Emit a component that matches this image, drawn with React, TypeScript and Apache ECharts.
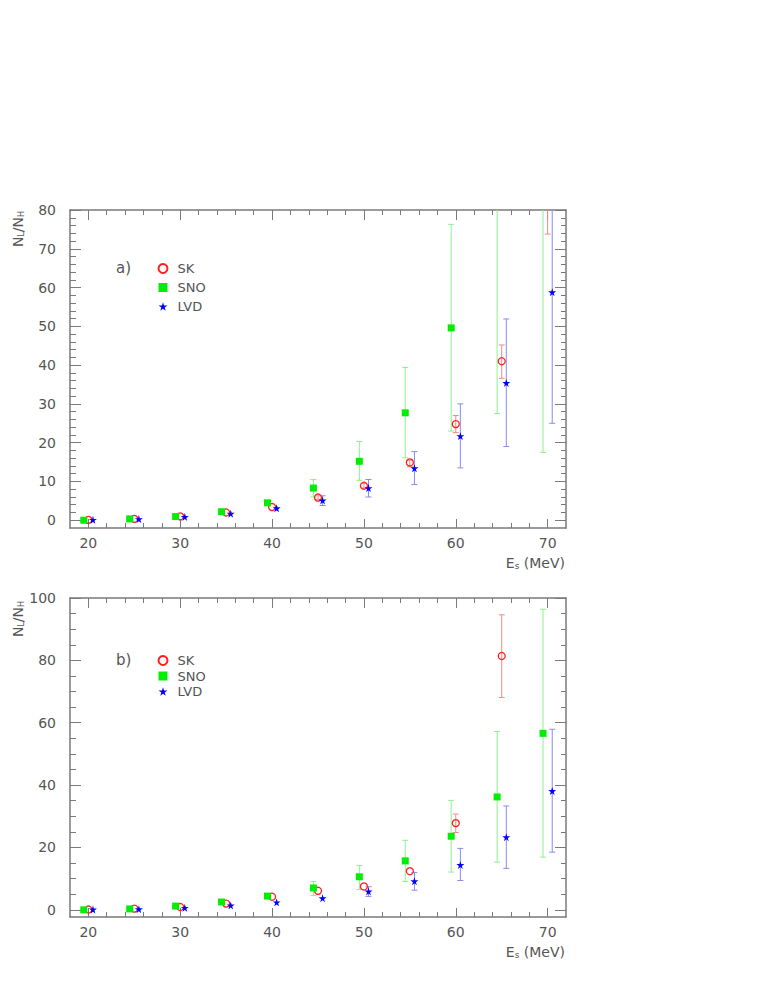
import React, { useEffect, useRef } from "react";
import * as echarts from "echarts";

// ---------- data ----------
// Panel a)
const skX_a = [20, 25, 30, 35, 40, 45, 50, 55, 60, 65, 70];
const skY_a = [0.1, 0.35, 1.0, 2.0, 3.4, 5.85, 8.9, 14.9, 24.8, 41.0, 90];
const skLo_a = [null, null, null, null, null, 5.4, 8.3, 13.8, 22.6, 36.6, 73.8];
const skHi_a = [null, null, null, null, null, 6.3, 9.5, 15.5, 27.0, 45.2, 106];

const snoX_a = [19.5, 24.5, 29.5, 34.5, 39.5, 44.5, 49.5, 54.5, 59.5, 64.5, 69.5];
const snoY_a = [0.0, 0.35, 0.95, 2.2, 4.5, 8.3, 15.2, 27.7, 49.6, 95, 110];
const snoLo_a = [null, null, null, null, null, 6.0, 10.3, 16.1, 23.0, 27.5, 17.5];
const snoHi_a = [null, null, null, null, null, 10.5, 20.3, 39.4, 76.3, 160, 200];

const lvdX_a = [20.5, 25.5, 30.5, 35.5, 40.5, 45.5, 50.5, 55.5, 60.5, 65.5, 70.5];
const lvdY_a = [0.1, 0.3, 0.86, 1.7, 3.1, 5.1, 8.3, 13.4, 21.7, 35.4, 58.8];
const lvdLo_a = [null, null, null, null, null, 3.8, 6.0, 9.2, 13.5, 19.0, 25.0];
const lvdHi_a = [null, null, null, null, null, 6.3, 10.5, 17.7, 30.0, 51.9, 92];

// Panel b)
const skX_b = [20, 25, 30, 35, 40, 45, 50, 55, 60, 65];
const skY_b = [0.1, 0.4, 0.9, 2.0, 4.2, 6.1, 7.5, 12.4, 27.8, 81.4];
const skLo_b = [null, null, null, null, null, null, null, null, 24.8, 68.1];
const skHi_b = [null, null, null, null, null, null, null, null, 30.7, 94.6];

const snoX_b = [19.5, 24.5, 29.5, 34.5, 39.5, 44.5, 49.5, 54.5, 59.5, 64.5, 69.5];
const snoY_b = [0.0, 0.3, 1.2, 2.5, 4.4, 7.0, 10.6, 15.7, 23.6, 36.2, 56.6];
const snoLo_b = [null, null, null, null, null, 4.6, 6.5, 9.1, 12.1, 15.3, 16.9];
const snoHi_b = [null, null, null, null, null, 9.1, 14.2, 22.3, 35.1, 57.2, 96.4];

const lvdX_b = [20.5, 25.5, 30.5, 35.5, 40.5, 45.5, 50.5, 55.5, 60.5, 65.5, 70.5];
const lvdY_b = [0.1, 0.2, 0.65, 1.4, 2.4, 3.75, 5.9, 9.2, 14.4, 23.3, 38.1];
const lvdLo_b = [null, null, null, null, null, null, 4.3, 6.3, 9.4, 13.3, 18.5];
const lvdHi_b = [null, null, null, null, null, null, 7.4, 12.0, 19.7, 33.3, 57.9];

// ---------- ticks ----------
const xMajor = [20, 30, 40, 50, 60, 70];
const xMinor = [20, 22, 24, 26, 28, 30, 32, 34, 36, 38, 40, 42, 44, 46, 48, 50, 52, 54, 56, 58, 60, 62, 64, 66, 68, 70];
const yMajor_a = [0, 10, 20, 30, 40, 50, 60, 70, 80];
const yMinor_a = [0, 2, 4, 6, 8, 10, 12, 14, 16, 18, 20, 22, 24, 26, 28, 30, 32, 34, 36, 38, 40, 42, 44, 46, 48, 50, 52, 54, 56, 58, 60, 62, 64, 66, 68, 70, 72, 74, 76, 78];
const yMajor_b = [0, 20, 40, 60, 80, 100];
const yMinor_b = [0, 5, 10, 15, 20, 25, 30, 35, 40, 45, 50, 55, 60, 65, 70, 75, 80, 85, 90, 95];

const seriesNames = ["SK", "SNO", "LVD"];

const FONT = "DejaVu Sans";
const AX = "#7a7a7a";
const TXT = "#555";
const STAR = "path://M50,0 L61,35 L98,35 L68,57 L79,91 L50,70 L21,91 L32,57 L2,35 L39,35 Z";

function xAxisDef(gridIndex: number, position: string, ticks: number[], length: number, line: boolean, labels: number[] | null) {
  return {
    type: "value",
    gridIndex,
    position,
    min: 18,
    max: 72,
    axisLine: { show: line, onZero: false, lineStyle: { color: AX, width: 1.5 } },
    axisTick: { show: true, inside: true, length, customValues: ticks, lineStyle: { color: AX, width: 1 } },
    axisLabel: labels
      ? { show: true, customValues: labels, color: TXT, fontSize: 14, fontFamily: FONT, margin: 8 }
      : { show: false },
    splitLine: { show: false },
  };
}

function yAxisDef(gridIndex: number, position: string, min: number, max: number, ticks: number[], length: number, line: boolean, labels: number[] | null) {
  return {
    type: "value",
    gridIndex,
    position,
    min,
    max,
    axisLine: { show: line, onZero: false, lineStyle: { color: AX, width: 1.5 } },
    axisTick: { show: true, inside: true, length, customValues: ticks, lineStyle: { color: AX, width: 1 } },
    axisLabel: labels
      ? { show: true, customValues: labels, color: TXT, fontSize: 14, fontFamily: FONT, margin: 14 }
      : { show: false },
    splitLine: { show: false },
  };
}

function errSeries(name: string, p: number, xs: number[], lo: (number | null)[], hi: (number | null)[], color: string) {
  const data: number[][] = [];
  xs.forEach((x, i) => {
    if (lo[i] != null && hi[i] != null) data.push([x, lo[i] as number, hi[i] as number]);
  });
  return {
    name,
    type: "custom",
    xAxisIndex: p * 4,
    yAxisIndex: p * 4,
    clip: true,
    z: 1,
    encode: { x: 0, y: [1, 2] },
    data,
    renderItem: (params: any, api: any) => {
      const x = api.value(0);
      const a = api.coord([x, api.value(1)]);
      const b = api.coord([x, api.value(2)]);
      const w = 3;
      const st = { stroke: color, lineWidth: 1 };
      return {
        type: "group",
        children: [
          { type: "line", shape: { x1: a[0], y1: a[1], x2: b[0], y2: b[1] }, style: st },
          { type: "line", shape: { x1: a[0] - w, y1: a[1], x2: a[0] + w, y2: a[1] }, style: st },
          { type: "line", shape: { x1: b[0] - w, y1: b[1], x2: b[0] + w, y2: b[1] }, style: st },
        ],
      };
    },
  };
}

function pts(xs: number[], ys: number[]) {
  return xs.map((x, i) => [x, ys[i]]);
}

function panelSeries(p: number, d: any) {
  return [
    errSeries("SK err", p, d.skX, d.skLo, d.skHi, "#f48a8a"),
    errSeries("SNO err", p, d.snoX, d.snoLo, d.snoHi, "#8ef08e"),
    errSeries("LVD err", p, d.lvdX, d.lvdLo, d.lvdHi, "#8a8af4"),
    {
      name: "SK",
      type: "scatter",
      xAxisIndex: p * 4,
      yAxisIndex: p * 4,
      z: 3,
      symbol: "circle",
      symbolSize: 7,
      itemStyle: { color: "rgba(255,255,255,0)", borderColor: "#ff2020", borderWidth: 1.3, opacity: 1 },
      data: pts(d.skX, d.skY),
    },
    {
      name: "SNO",
      type: "scatter",
      xAxisIndex: p * 4,
      yAxisIndex: p * 4,
      z: 4,
      symbol: "rect",
      symbolSize: 7,
      itemStyle: { color: "#00ee00", opacity: 1 },
      data: pts(d.snoX, d.snoY),
    },
    {
      name: "LVD",
      type: "scatter",
      xAxisIndex: p * 4,
      yAxisIndex: p * 4,
      z: 5,
      symbol: STAR,
      symbolSize: 8,
      itemStyle: { color: "#0000ff", opacity: 1 },
      data: pts(d.lvdX, d.lvdY),
    },
  ];
}

function legendDef(top: number, gap: number) {
  return {
    data: seriesNames,
    orient: "vertical",
    left: 157.5,
    top,
    padding: 0,
    itemWidth: 9,
    itemHeight: 9,
    itemGap: gap,
    selectedMode: false,
    textStyle: { color: TXT, fontSize: 13, fontFamily: FONT, padding: [0, 0, 0, 5] },
  };
}

function yName(x: number, y: number) {
  return {
    type: "text",
    x,
    y,
    rotation: Math.PI / 2,
    style: {
      text: "{n|N}{s|L}{n|/N}{s|H}",
      align: "center",
      verticalAlign: "middle",
      rich: {
        n: { fontSize: 14, fontFamily: FONT, fill: TXT },
        s: { fontSize: 8, fontFamily: FONT, fill: TXT, verticalAlign: "bottom" },
      },
    },
  };
}

function xName(x: number, y: number) {
  return {
    type: "text",
    x,
    y,
    style: {
      text: "{n|E}{s|s}{n| (MeV)}",
      align: "right",
      verticalAlign: "middle",
      rich: {
        n: { fontSize: 14, fontFamily: FONT, fill: TXT },
        s: { fontSize: 9, fontFamily: FONT, fill: TXT, verticalAlign: "bottom" },
      },
    },
  };
}

function panelTag(text: string, x: number, y: number) {
  return {
    type: "text",
    x,
    y,
    style: { text, fontSize: 15, fontFamily: FONT, fill: TXT, align: "left", verticalAlign: "middle" },
  };
}

export default function App() {
  const ref = useRef<HTMLDivElement>(null);
  useEffect(() => {
    if (!ref.current) return;
    const chart = echarts.init(ref.current, null, { renderer: "svg" });
    const dA = {
      skX: skX_a, skY: skY_a, skLo: skLo_a, skHi: skHi_a,
      snoX: snoX_a, snoY: snoY_a, snoLo: snoLo_a, snoHi: snoHi_a,
      lvdX: lvdX_a, lvdY: lvdY_a, lvdLo: lvdLo_a, lvdHi: lvdHi_a,
    };
    const dB = {
      skX: skX_b, skY: skY_b, skLo: skLo_b, skHi: skHi_b,
      snoX: snoX_b, snoY: snoY_b, snoLo: snoLo_b, snoHi: snoHi_b,
      lvdX: lvdX_b, lvdY: lvdY_b, lvdLo: lvdLo_b, lvdHi: lvdHi_b,
    };
    const option: any = {
      animation: false,
      textStyle: { fontFamily: FONT },
      grid: [
        { left: 70, top: 210, width: 496, height: 318 },
        { left: 70, top: 598, width: 496, height: 319 },
      ],
      xAxis: [
        xAxisDef(0, "bottom", xMajor, 9, true, xMajor),
        xAxisDef(0, "bottom", xMinor, 5, false, null),
        xAxisDef(0, "top", xMajor, 10, true, null),
        xAxisDef(0, "top", xMinor, 5, false, null),
        xAxisDef(1, "bottom", xMajor, 9, true, xMajor),
        xAxisDef(1, "bottom", xMinor, 5, false, null),
        xAxisDef(1, "top", xMajor, 10, true, null),
        xAxisDef(1, "top", xMinor, 5, false, null),
      ],
      yAxis: [
        yAxisDef(0, "left", -2, 80, yMajor_a, 11, true, yMajor_a),
        yAxisDef(0, "left", -2, 80, yMinor_a, 6, false, null),
        yAxisDef(0, "right", -2, 80, yMajor_a, 11, true, null),
        yAxisDef(0, "right", -2, 80, yMinor_a, 5, false, null),
        yAxisDef(1, "left", -2.3, 100, yMajor_b, 11, true, yMajor_b),
        yAxisDef(1, "left", -2.3, 100, yMinor_b, 6, false, null),
        yAxisDef(1, "right", -2.3, 100, yMajor_b, 11, true, null),
        yAxisDef(1, "right", -2.3, 100, yMinor_b, 5, false, null),
      ],
      legend: [legendDef(262, 6), legendDef(654, 2.5)],
      series: [...panelSeries(0, dA), ...panelSeries(1, dB)],
      graphic: [
        yName(18, 229),
        yName(18, 619),
        xName(565, 563),
        xName(565, 952),
        panelTag("a)", 116, 268),
        panelTag("b)", 116, 660),
      ],
    };
    chart.setOption(option);
    return () => chart.dispose();
  }, []);
  return (
    <div
      ref={ref}
      style={{ position: "fixed", left: 0, top: 0, width: 763, height: 987, background: "#fff" }}
    />
  );
}
